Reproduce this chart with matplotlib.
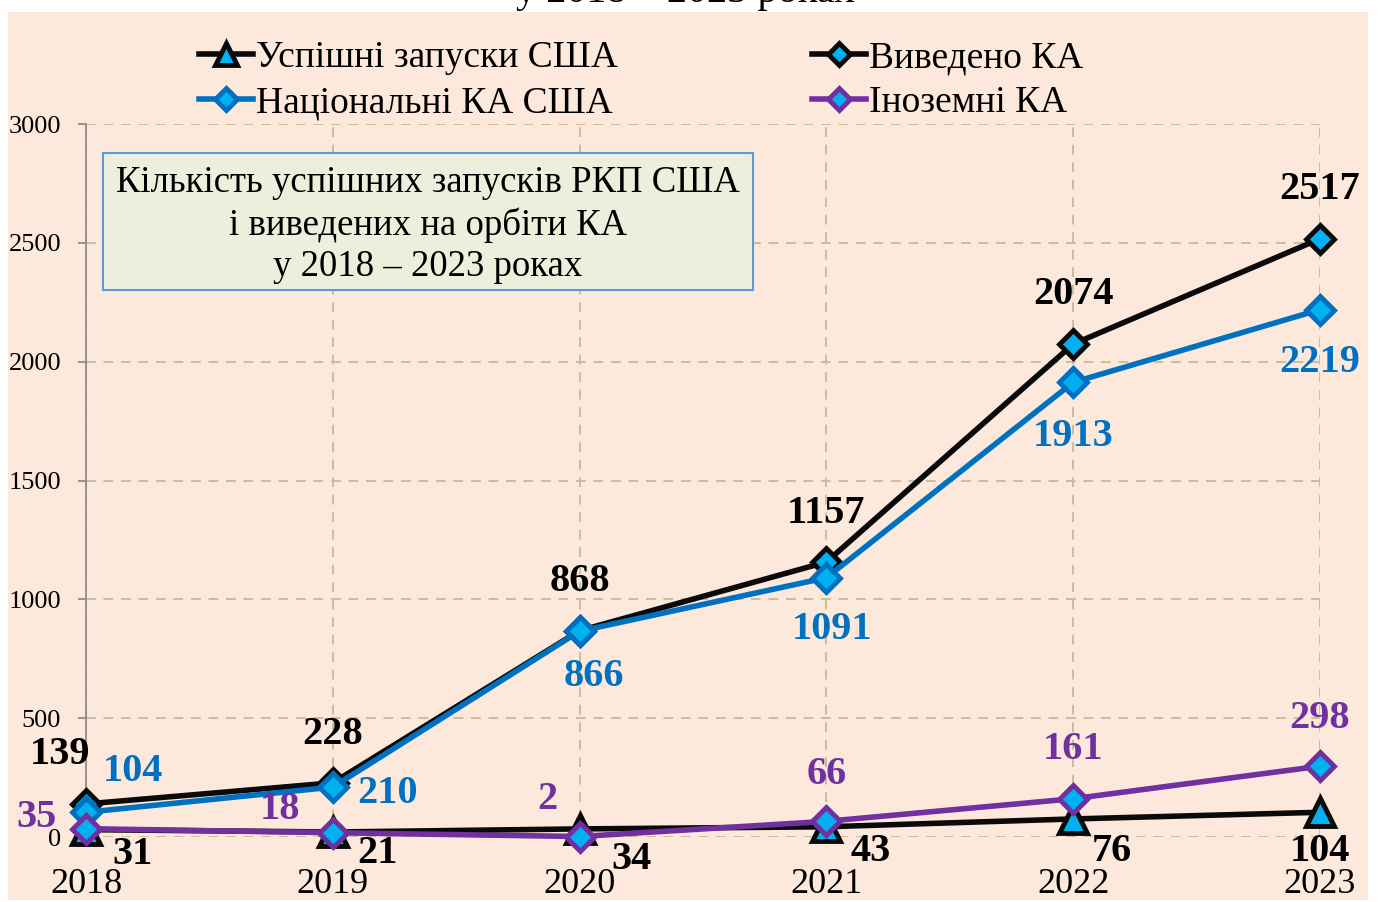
import matplotlib.pyplot as plt
from matplotlib.patches import Rectangle

plt.rcParams['font.family'] = ['Liberation Serif', 'DejaVu Serif']

years = [2018, 2019, 2020, 2021, 2022, 2023]
launches = [31, 21, 34, 43, 76, 104]
total = [139, 228, 868, 1157, 2074, 2517]
national = [104, 210, 866, 1091, 1913, 2219]
foreign = [35, 18, 2, 66, 161, 298]

names = ['Успішні запуски США', 'Національні КА США', 'Виведено КА', 'Іноземні КА']
title = 'Кількість успішних запусків РКП США\nі виведених на орбіти КА\nу 2018 – 2023 роках'
yticks = [0, 500, 1000, 1500, 2000, 2500, 3000]

BLACK = '#0a0a0a'
BLUE = '#0070C0'
PURPLE = '#7030A0'
CYAN = '#00B0F0'
PEACH = '#FDE9DB'

# label offsets in pixels (dx, dy) for each point
off_total = [(-26, 49), (0, 48), (0, 49), (0, 49), (0, 50), (0, 49)]
off_nat = [(47, 41), (55, -6), (14, -45), (6, -52), (0, -54), (0, -53)]
off_for = [(-49, 11), (-53, 23), (-32, 37), (0, 47), (0, 49), (0, 48)]
off_launch = [(47, -25), (45, -21), (52, -31), (44, -25), (39, -33), (0, -39)]

W, H = 1379, 902
fig = plt.figure(figsize=(W / 100, H / 100), dpi=100)
fig.patch.set_facecolor('white')
fig.patches.append(Rectangle((8 / W, 1 - 900 / H), 1360 / W, 888 / H,
                             transform=fig.transFigure, facecolor=PEACH,
                             edgecolor='none', zorder=-1))
# cut off heading above the chart
fig.text(685 / W, 1 - 2 / H, 'у 2018 – 2023 роках', ha='center', va='baseline',
         fontsize=29, color='black', zorder=-2)

ax = fig.add_axes([86 / W, 1 - 837 / H, 1234 / W, 713 / H])
ax.set_facecolor('none')
ax.set_xlim(2018, 2023)
ax.set_ylim(0, 3000)
ax.set_xticks(years)
ax.set_yticks(yticks)
ax.grid(True, color='#C8BE9A', linestyle=(0, (5, 4)), linewidth=1.4)
ax.set_axisbelow(True)
for s in ['top', 'right', 'bottom']:
    ax.spines[s].set_visible(False)
ax.spines['left'].set_color('#8c8c8c')
ax.spines['left'].set_linewidth(1.3)
ax.tick_params(axis='y', colors='#8c8c8c', labelcolor='black', labelsize=19,
               length=6, width=1.3, pad=12)
ax.tick_params(axis='x', length=0, labelsize=26, pad=22)

l1, = ax.plot(years, launches, color=BLACK, lw=4, marker='^', ms=20,
              mfc=CYAN, mec=BLACK, mew=3.5, zorder=3, clip_on=False)
l3, = ax.plot(years, total, color=BLACK, lw=4, marker='D', ms=14,
              mfc=CYAN, mec=BLACK, mew=3.5, zorder=4, clip_on=False)
l2, = ax.plot(years, national, color=BLUE, lw=4, marker='D', ms=14,
              mfc=CYAN, mec=BLUE, mew=3.5, zorder=5, clip_on=False)
l4, = ax.plot(years, foreign, color=PURPLE, lw=4, marker='D', ms=14,
              mfc=CYAN, mec=PURPLE, mew=3.5, zorder=6, clip_on=False)

def labels(vals, offs, color):
    for x, v, (dx, dy) in zip(years, vals, offs):
        ax.annotate(str(v), (x, v), xytext=(dx, dy), textcoords='offset pixels',
                    ha='center', va='center', fontsize=29, fontweight='bold',
                    color=color, zorder=7, annotation_clip=False)

labels(total, off_total, 'black')
labels(national, off_nat, BLUE)
labels(foreign, off_for, PURPLE)
labels(launches, off_launch, 'black')

leg_kw = dict(loc='upper left', frameon=False, fontsize=27, handlelength=1.45,
              handletextpad=0.08, labelspacing=0.28, borderpad=0, markerscale=0.8)
fig.legend([l1, l2], names[:2], bbox_to_anchor=(180 / W, 1 - 22 / H), **leg_kw)
fig.legend([l3, l4], names[2:], bbox_to_anchor=(793 / W, 1 - 22 / H), **leg_kw)

fig.patches.append(Rectangle((103 / W, 1 - 290 / H), 650 / W, 137 / H,
                             transform=fig.transFigure, facecolor='#EEEEDD',
                             edgecolor='#5B9BD5', linewidth=1.5, zorder=2))
fig.text(428 / W, 1 - 225 / H, title, ha='center', va='center', fontsize=26.5,
         linespacing=1.25, zorder=3)

fig.savefig('out.png', dpi=100)
